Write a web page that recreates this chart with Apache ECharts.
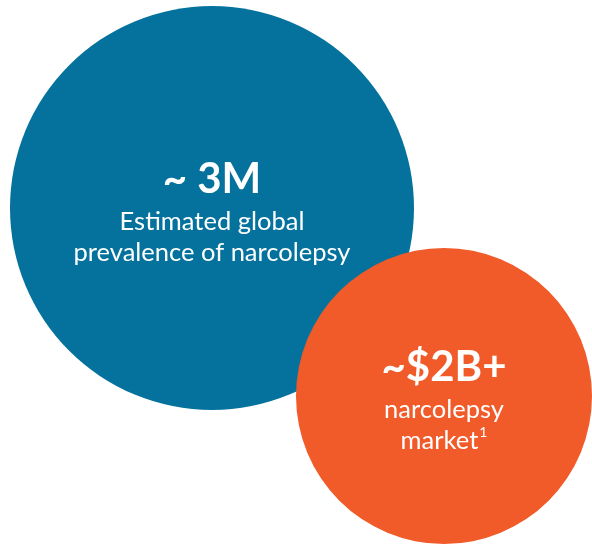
<!DOCTYPE html>
<html>
<head>
<meta charset="utf-8">
<script src="https://cdn.jsdelivr.net/npm/echarts@6/dist/echarts.min.js"></script>
<style>
  html, body { margin: 0; padding: 0; background: #ffffff; }
  #chart { width: 592px; height: 544px; }
</style>
</head>
<body>
<div id="chart"></div>
<script>
// Bubble facts: headline figure and caption for each circle
const headlines = ['~ 3M', '~$2B+'];
const captionLine1 = ['Estimated global', 'narcolepsy'];
const captionLine2 = ['prevalence of narcolepsy', 'market'];
const footnotes = ['', '1'];
// bubble centre in chart units and bubble diameter
const bubbleX = [212, 444];
const bubbleY = [208, 396];
const bubbleSize = [404, 296];
const bubbleColors = ['#04729c', '#f15a29'];

const font = 'Lato, "Open Sans", sans-serif';

const data = headlines.map((h, i) => ({
  value: [bubbleX[i], bubbleY[i], bubbleSize[i]],
  itemStyle: { color: bubbleColors[i], opacity: 1 },
  label: {
    formatter: '{h|' + h + '}\n{c|' + captionLine1[i] + '}\n{c|' + captionLine2[i] + '}' +
      (footnotes[i] ? '{s|' + footnotes[i] + '}' : '')
  }
}));

const chart = echarts.init(document.getElementById('chart'), null, { renderer: 'canvas' });
chart.setOption({
  animation: false,
  grid: { left: 0, right: 0, top: 0, bottom: 0 },
  xAxis: { type: 'value', min: 0, max: 592, show: false },
  yAxis: { type: 'value', min: 0, max: 544, inverse: true, show: false },
  series: [{
    type: 'scatter',
    symbol: 'circle',
    symbolSize: v => v[2],
    data: data,
    emphasis: { disabled: true },
    label: {
      show: true,
      position: 'inside',
      offset: [0, 2],
      color: '#ffffff',
      align: 'center',
      rich: {
        h: { fontFamily: font, fontWeight: 'bold', fontSize: 42, lineHeight: 54, color: '#fff' },
        c: { fontFamily: font, fontSize: 25.5, lineHeight: 31, color: '#fff' },
        s: { fontFamily: font, fontSize: 14, lineHeight: 31, color: '#fff', verticalAlign: 'top', padding: [0, 0, 10, 1] }
      }
    }
  }]
});
</script>
</body>
</html>
